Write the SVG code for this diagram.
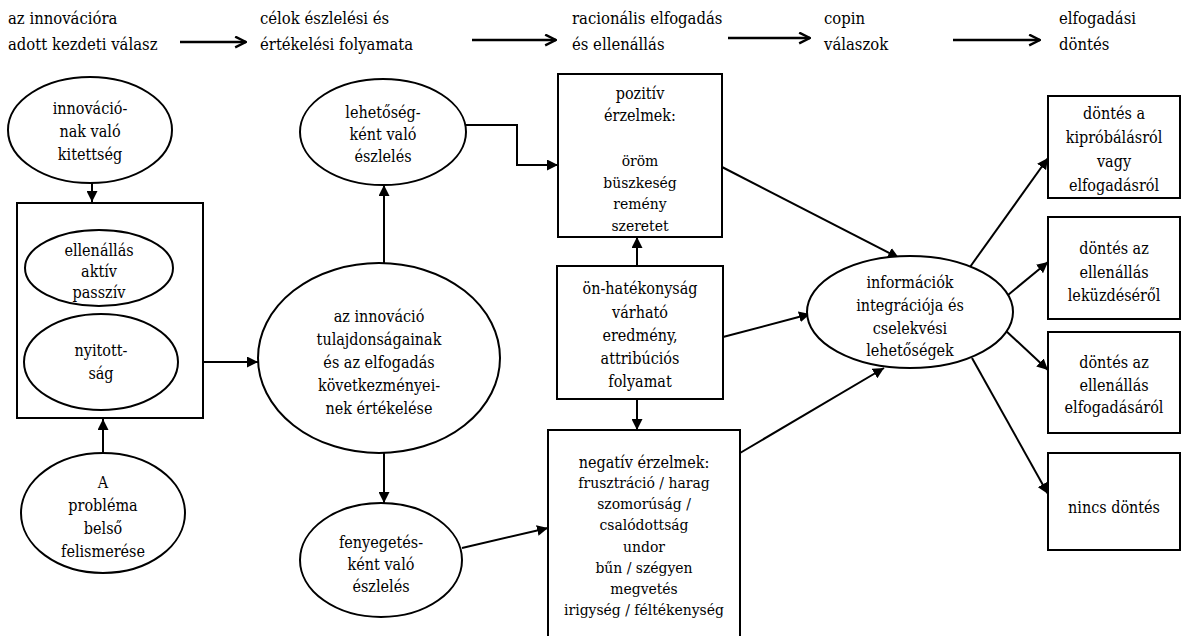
<svg xmlns="http://www.w3.org/2000/svg" width="1192" height="636" viewBox="0 0 1192 636">
<defs>
<style>
text{font-family:'DejaVu Serif Condensed','DejaVu Serif',serif;font-stretch:condensed;fill:#000}
.t{font-size:16px;text-anchor:middle}
.s{font-size:15.5px;text-anchor:middle}
.h{font-size:16.5px}
.n{fill:#fff;stroke:#000;stroke-width:2}
.c{fill:none;stroke:#000;stroke-width:2}
.ha{fill:none;stroke:#000;stroke-width:2.4}
</style>
<marker id="a" viewBox="0 0 10 10" refX="10" refY="5" markerWidth="11" markerHeight="11" markerUnits="userSpaceOnUse" orient="auto"><path d="M0,0 L10,5 L0,10 z" fill="#000"/></marker>
<marker id="o" viewBox="0 0 12 12" refX="11" refY="6" markerWidth="13" markerHeight="13" markerUnits="userSpaceOnUse" orient="auto"><path d="M1,1 L11,6 L1,11" fill="none" stroke="#000" stroke-width="2.2"/></marker>
</defs>
<rect width="1192" height="636" fill="#fff"/>

<g id="header">
<text class="h" x="8" y="24">az innovációra</text>
<text class="h" x="8" y="50">adott kezdeti  válasz</text>
<text class="h" x="260" y="24">célok észlelési  és</text>
<text class="h" x="260" y="50">értékelési  folyamata</text>
<text class="h" x="572" y="24">racionális  elfogadás</text>
<text class="h" x="572" y="50">és ellenállás</text>
<text class="h" x="824" y="24">copin</text>
<text class="h" x="824" y="50">válaszok</text>
<text class="h" x="1059" y="24">elfogadási</text>
<text class="h" x="1059" y="50">döntés</text>
</g>

<g id="connectors">
<path class="ha" d="M180,42 L246,42" marker-end="url(#o)"/>
<path class="ha" d="M472,40 L556,40" marker-end="url(#o)"/>
<path class="ha" d="M728,38 L810,38" marker-end="url(#o)"/>
<path class="ha" d="M953,40 L1040,40" marker-end="url(#o)"/>
<path class="c" d="M92,183 L92,202" marker-end="url(#a)"/>
<path class="c" d="M103,453 L103,419" marker-end="url(#a)"/>
<path class="c" d="M178,362 L258,362" marker-end="url(#a)"/>
<path class="c" d="M384,263 L384,185" marker-end="url(#a)"/>
<path class="c" d="M384,453 L384,503" marker-end="url(#a)"/>
<path class="c" d="M466,125 L517,125 L517,165 L558,165" marker-end="url(#a)"/>
<path class="c" d="M462,548 L548,528" marker-end="url(#a)"/>
<path class="c" d="M637,266 L637,237" marker-end="url(#a)"/>
<path class="c" d="M637,399 L637,430" marker-end="url(#a)"/>
<path class="c" d="M722,167 L899,258" marker-end="url(#a)"/>
<path class="c" d="M723,337 L810,314" marker-end="url(#a)"/>
<path class="c" d="M740,453 L884,368" marker-end="url(#a)"/>
<path class="c" d="M970,267 L1048,158" marker-end="url(#a)"/>
<path class="c" d="M1008,295 L1048,262" marker-end="url(#a)"/>
<path class="c" d="M1005,330 L1048,370" marker-end="url(#a)"/>
<path class="c" d="M972,358 L1048,494" marker-end="url(#a)"/>
</g>

<g id="n-kitettseg">
<ellipse class="n" cx="90" cy="130" rx="82" ry="53"/>
<text class="t" x="90" y="114">innováció-</text>
<text class="t" x="90" y="137">nak való</text>
<text class="t" x="90" y="160">kitettség</text>
</g>

<g id="n-group">
<rect class="n" x="17" y="203" width="186" height="215" fill="none"/>
</g>

<g id="n-ellenallas">
<ellipse class="n" cx="99" cy="268" rx="74" ry="38"/>
<text class="t" x="99" y="256">ellenállás</text>
<text class="t" x="99" y="277">aktív</text>
<text class="t" x="99" y="298">passzív</text>
</g>

<g id="n-nyitottsag">
<ellipse class="n" cx="101" cy="362" rx="77" ry="48"/>
<text class="t" x="101" y="356">nyitott-</text>
<text class="t" x="101" y="379">ság</text>
</g>

<g id="n-problema">
<ellipse class="n" cx="103" cy="513" rx="82" ry="60"/>
<text class="t" x="103" y="488">A</text>
<text class="t" x="103" y="511">probléma</text>
<text class="t" x="103" y="534">belső</text>
<text class="t" x="103" y="557">felismerése</text>
</g>

<g id="n-ertekeles">
<ellipse class="n" cx="379" cy="358" rx="121" ry="95"/>
<text class="t" x="379" y="322">az innováció</text>
<text class="t" x="379" y="345">tulajdonságainak</text>
<text class="t" x="379" y="368">és az elfogadás</text>
<text class="t" x="379" y="391">következményei-</text>
<text class="t" x="379" y="414">nek értékelése</text>
</g>

<g id="n-lehetoseg">
<ellipse class="n" cx="383" cy="132" rx="83" ry="53"/>
<text class="t" x="383" y="118">lehetőség-</text>
<text class="t" x="383" y="140">ként való</text>
<text class="t" x="383" y="162">észlelés</text>
</g>

<g id="n-fenyegetes">
<ellipse class="n" cx="381" cy="560" rx="81" ry="57"/>
<text class="t" x="381" y="548">fenyegetés-</text>
<text class="t" x="381" y="570">ként való</text>
<text class="t" x="381" y="592">észlelés</text>
</g>

<g id="n-pozitiv">
<rect class="n" x="558" y="74" width="164" height="163"/>
<text class="t" x="640" y="99">pozitív</text>
<text class="t" x="640" y="121">érzelmek:</text>
<text class="s" x="640" y="166">öröm</text>
<text class="s" x="640" y="188">büszkeség</text>
<text class="s" x="640" y="209">remény</text>
<text class="s" x="640" y="231">szeretet</text>
</g>

<g id="n-onhatekonysag">
<rect class="n" x="557" y="266" width="166" height="133"/>
<text class="t" x="640" y="294">ön-hatékonyság</text>
<text class="t" x="640" y="318">várható</text>
<text class="t" x="640" y="341">eredmény,</text>
<text class="t" x="640" y="364">attribúciós</text>
<text class="t" x="640" y="387">folyamat</text>
</g>

<g id="n-negativ">
<rect class="n" x="548" y="430" width="192" height="220"/>
<text class="t" x="644" y="468">negatív érzelmek:</text>
<text class="s" x="644" y="488">frusztráció  / harag</text>
<text class="s" x="644" y="509">szomorúság /</text>
<text class="s" x="644" y="530">csalódottság</text>
<text class="s" x="644" y="552">undor</text>
<text class="s" x="644" y="573">bűn / szégyen</text>
<text class="s" x="644" y="594">megvetés</text>
<text class="s" x="644" y="615">irigység / féltékenység</text>
</g>

<g id="n-informaciok">
<ellipse class="n" cx="910" cy="312" rx="103" ry="56"/>
<text class="t" x="910" y="288">információk</text>
<text class="t" x="910" y="311">integrációja  és</text>
<text class="t" x="910" y="334">cselekvési</text>
<text class="t" x="910" y="356">lehetőségek</text>
</g>

<g id="n-d1">
<rect class="n" x="1048" y="96" width="132" height="102"/>
<text class="t" x="1114" y="119">döntés a</text>
<text class="t" x="1114" y="143">kipróbálásról</text>
<text class="t" x="1114" y="167">vagy</text>
<text class="t" x="1114" y="191">elfogadásról</text>
</g>

<g id="n-d2">
<rect class="n" x="1048" y="217" width="132" height="102"/>
<text class="t" x="1114" y="254">döntés az</text>
<text class="t" x="1114" y="278">ellenállás</text>
<text class="t" x="1114" y="301">leküzdéséről</text>
</g>

<g id="n-d3">
<rect class="n" x="1048" y="332" width="132" height="101"/>
<text class="t" x="1114" y="368">döntés az</text>
<text class="t" x="1114" y="391">ellenállás</text>
<text class="t" x="1114" y="413">elfogadásáról</text>
</g>

<g id="n-d4">
<rect class="n" x="1048" y="453" width="132" height="97"/>
<text class="t" x="1114" y="513">nincs döntés</text>
</g>
</svg>
